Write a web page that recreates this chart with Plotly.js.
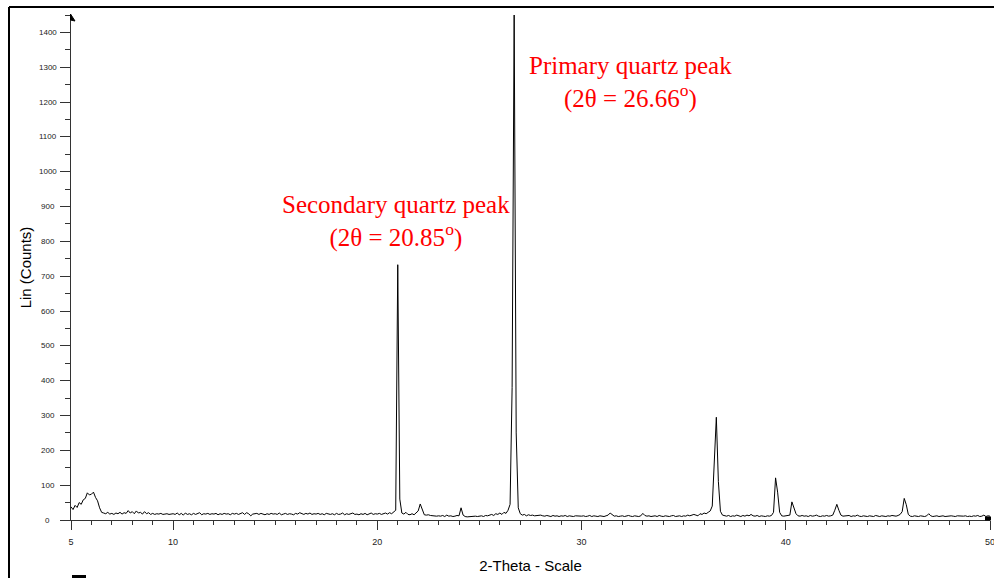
<!DOCTYPE html>
<html>
<head>
<meta charset="utf-8">
<script src="https://cdn.plot.ly/plotly-3.0.1.min.js"></script>
<style>html,body{margin:0;padding:0;background:#fff;}#chart{width:994px;height:578px;}</style>
</head>
<body>
<div id="chart"></div>
<script>
// 2-Theta scan: first angle and step (degrees)
const twoThetaStart = 5;
const twoThetaStep = 0.1;
// Lin (Counts), one value per 0.1 degree from 5.0 to 50.0
const counts = [
  38, 30, 42, 36, 50, 45, 58, 62, 78, 72,   // 5
  74, 80, 65, 55, 35, 22, 20, 18, 22, 17,   // 6
  19, 16, 20, 18, 22, 17, 21, 19, 27, 20,   // 7
  24, 18, 26, 20, 22, 17, 24, 18, 21, 16,   // 8
  19, 16, 18, 17, 19, 16, 17, 18, 16, 17,   // 9
  18, 16, 20, 15, 19, 14, 20, 16, 18, 15,   // 10
  19, 16, 18, 21, 15, 18, 17, 19, 16, 18,   // 11
  17, 19, 15, 18, 16, 19, 17, 18, 15, 19,   // 12
  17, 19, 16, 18, 21, 16, 21, 18, 12, 17,   // 13
  17, 19, 16, 19, 17, 15, 18, 16, 19, 17,   // 14
  18, 16, 20, 15, 17, 19, 16, 18, 17, 15,   // 15
  19, 17, 21, 18, 16, 19, 17, 20, 16, 18,   // 16
  17, 19, 16, 18, 15, 19, 17, 16, 18, 15,   // 17
  19, 16, 17, 20, 15, 18, 16, 17, 20, 16,   // 18
  17, 15, 18, 16, 19, 15, 17, 20, 16, 18,   // 19
  17, 19, 16, 18, 20, 17, 21, 18, 22, 28,   // 20
  733, 60, 20, 17, 22, 16, 15, 18, 15, 20,  // 21
  26, 46, 28, 15, 14, 15, 13, 12, 13, 11,   // 22
  12, 11, 13, 10, 14, 11, 12, 10, 11, 13,   // 23
  12, 35, 14, 10, 9, 10, 9, 10, 11, 10,     // 24
  11, 12, 10, 13, 12, 14, 16, 13, 18, 16,   // 25
  20, 16, 22, 19, 28, 45, 380, 1450, 250, 35, // 26
  18, 14, 16, 12, 15, 13, 14, 12, 13, 12,   // 27
  14, 12, 11, 13, 12, 10, 13, 11, 12, 10,   // 28
  12, 11, 13, 10, 12, 11, 10, 12, 11, 10,   // 29
  11, 12, 10, 11, 13, 10, 12, 11, 10, 12,   // 30
  11, 10, 12, 14, 20, 15, 11, 12, 10, 11,   // 31
  12, 10, 11, 13, 11, 10, 12, 11, 10, 12,   // 32
  19, 13, 11, 12, 10, 11, 12, 10, 13, 11,   // 33
  10, 12, 11, 10, 12, 13, 10, 11, 12, 10,   // 34
  12, 11, 14, 12, 13, 16, 14, 12, 18, 16,   // 35
  20, 18, 22, 26, 40, 150, 295, 110, 25, 14, // 36
  12, 11, 13, 10, 12, 11, 14, 12, 10, 13,   // 37
  11, 14, 12, 16, 12, 11, 13, 10, 12, 11,   // 38
  10, 12, 11, 13, 22, 121, 80, 22, 12, 11,  // 39
  12, 11, 14, 52, 32, 18, 12, 11, 13, 11,   // 40
  12, 10, 13, 11, 12, 14, 11, 10, 12, 11,   // 41
  13, 11, 12, 14, 28, 45, 28, 14, 11, 12,   // 42
  11, 13, 10, 12, 11, 14, 11, 10, 12, 11,   // 43
  10, 12, 11, 10, 13, 11, 10, 12, 11, 10,   // 44
  12, 11, 13, 12, 11, 13, 16, 24, 62, 44,   // 45
  16, 11, 10, 12, 11, 10, 12, 11, 10, 12,   // 46
  18, 12, 10, 11, 12, 10, 11, 12, 10, 11,   // 47
  10, 12, 11, 10, 12, 11, 10, 11, 12, 10,   // 48
  11, 10, 12, 11, 13, 10, 11, 14, 10, 12,   // 49
  11                                        // 50
];
const xTickVals = [5, 10, 20, 30, 40, 50];
const xTickText = ['5', '10', '20', '30', '40', '50'];
const yTickVals = [0, 100, 200, 300, 400, 500, 600, 700, 800, 900, 1000, 1100, 1200, 1300, 1400];
const yTickText = yTickVals.map(String);
const peakNotes = [
  {text: 'Primary quartz peak<br>(2θ = 26.66<sup>o</sup>)', px: 630, py: 82.5},
  {text: 'Secondary quartz peak<br>(2θ = 20.85<sup>o</sup>)', px: 396, py: 221.5}
];

// plot area in pixels
const L = 71, R = 990, T = 15, B = 520, W = 994, H = 578;
const pxX = p => (p - L) / (R - L);
const pxY = p => (B - p) / (B - T);

const annotations = [];
yTickVals.forEach((v, i) => {
  annotations.push({
    xref: 'paper', yref: 'y', x: pxX(47.5), y: v, text: yTickText[i],
    showarrow: false, xanchor: 'center', yanchor: 'middle',
    font: {family: 'Liberation Sans, Arial, sans-serif', size: 8, color: '#222'}
  });
});
peakNotes.forEach(n => {
  annotations.push({
    xref: 'paper', yref: 'paper', x: pxX(n.px), y: pxY(n.py), text: n.text,
    showarrow: false, xanchor: 'center', yanchor: 'middle', align: 'center',
    font: {family: 'Liberation Serif, Times New Roman, serif', size: 25, color: '#ff0000'}
  });
});

const shapes = [
  // outer frame (left and top edges visible)
  {type: 'line', xref: 'paper', yref: 'paper', x0: pxX(9), x1: pxX(9), y0: pxY(7), y1: pxY(600), line: {color: '#000', width: 2}},
  {type: 'line', xref: 'paper', yref: 'paper', x0: pxX(9), x1: pxX(1010), y0: pxY(7), y1: pxY(7), line: {color: '#000', width: 2}},
  // arrow tip on top of y axis
  {type: 'path', xref: 'paper', yref: 'paper', path: `M ${pxX(70.5)} ${pxY(14)} L ${pxX(75)} ${pxY(21)} L ${pxX(70.5)} ${pxY(20)} Z`,
   fillcolor: '#000', line: {color: '#000', width: 1}},
  // end marker of x axis
  {type: 'rect', xref: 'paper', yref: 'paper', x0: pxX(985), x1: pxX(991), y0: pxY(516.5), y1: pxY(520.5), fillcolor: '#000', line: {width: 0}},
  // small legend mark at bottom
  {type: 'rect', xref: 'paper', yref: 'paper', x0: pxX(72), x1: pxX(86), y0: pxY(575), y1: pxY(580), fillcolor: '#000', line: {width: 0}}
];

const trace = {
  type: 'scatter', mode: 'lines',
  x0: twoThetaStart, dx: twoThetaStep, y: counts,
  line: {color: '#000', width: 1},
  hoverinfo: 'x+y', showlegend: false
};

const layout = {
  width: W, height: H,
  margin: {l: L, r: W - R, t: T, b: H - B, pad: 0},
  paper_bgcolor: '#fff', plot_bgcolor: '#fff',
  showlegend: false,
  xaxis: {
    range: [5, 50], showgrid: false, zeroline: false,
    showline: true, linecolor: '#333', linewidth: 1,
    tickmode: 'array', tickvals: xTickVals, ticktext: xTickText,
    ticks: 'outside', ticklen: 9, tickwidth: 1, tickcolor: '#333',
    ticklabelstandoff: 4, ticklabeloverflow: 'allow',
    minor: {tickmode: 'linear', tick0: 5, dtick: 1, ticks: 'outside', ticklen: 4, tickwidth: 1, tickcolor: '#333', showgrid: false},
    tickfont: {family: 'Liberation Sans, Arial, sans-serif', size: 9, color: '#222'},
    title: {text: '2-Theta - Scale', standoff: 14, font: {family: 'Liberation Sans, Arial, sans-serif', size: 15, color: '#000'}},
    automargin: false, fixedrange: true
  },
  yaxis: {
    range: [0, 1450], showgrid: false, zeroline: false,
    showline: true, linecolor: '#333', linewidth: 1,
    tickmode: 'array', tickvals: yTickVals, showticklabels: false,
    ticks: 'outside', ticklen: 10, tickwidth: 1, tickcolor: '#333',
    minor: {tickmode: 'linear', tick0: 0, dtick: 50, ticks: 'outside', ticklen: 5, tickwidth: 1, tickcolor: '#333', showgrid: false},
    title: {text: 'Lin (Counts)', standoff: 24, font: {family: 'Liberation Sans, Arial, sans-serif', size: 15, color: '#000'}},
    automargin: false, fixedrange: true
  },
  annotations: annotations,
  shapes: shapes
};

Plotly.newPlot('chart', [trace], layout, {displayModeBar: false, staticPlot: true});
</script>
</body>
</html>
